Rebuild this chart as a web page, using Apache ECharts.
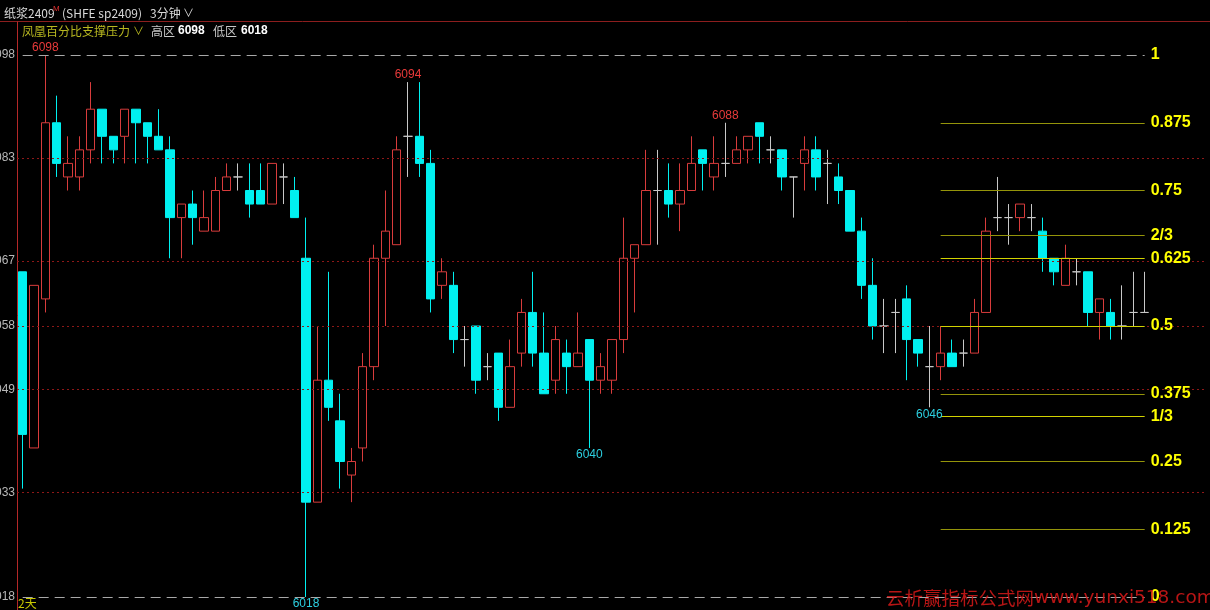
<!DOCTYPE html>
<html><head><meta charset="utf-8">
<script src="https://cdn.jsdelivr.net/npm/echarts@6/dist/echarts.min.js"></script>
<style>html,body{margin:0;padding:0;background:#000;overflow:hidden}#c{width:1210px;height:610px;}</style>
</head><body><div id="c"></div>
<script>
// ---- data ----
const opens  = [6066,6040,6062,6088,6080,6080,6084,6090,6086,6086, 6090,6088,6086,6084,6074,6076,6072,6072,6078,6080,
                6078,6078,6076,6080,6078,6068,6032,6050,6044,6036, 6040,6052,6068,6070,6086,6086,6082,6064,6064,6056,
                6058,6052,6054,6046,6054,6060,6054,6050,6054,6052, 6056,6050,6050,6056,6068,6070,6078,6078,6076,6078,
                6084,6080,6082,6082,6084,6088,6084,6084,6080,6082, 6084,6082,6080,6078,6072,6064,6058,6060,6062,6056,
                6052,6052,6054,6054,6054,6060,6074,6074,6074,6074, 6072,6068,6064,6066,6066,6060,6060,6058,6060,6060];
const closes = [6042,6064,6088,6082,6082,6084,6090,6086,6084,6090, 6088,6086,6084,6074,6076,6074,6074,6078,6080,6080,
                6076,6076,6082,6080,6074,6032,6050,6046,6038,6038, 6052,6068,6072,6084,6086,6082,6062,6066,6056,6056,
                6050,6052,6046,6052,6060,6054,6048,6056,6052,6054, 6050,6052,6056,6068,6070,6078,6078,6076,6078,6082,
                6082,6082,6082,6084,6086,6086,6084,6080,6080,6084, 6080,6082,6078,6072,6064,6058,6058,6060,6056,6054,
                6052,6054,6052,6054,6060,6072,6074,6074,6076,6074, 6068,6066,6068,6066,6060,6062,6058,6058,6060,6060];
const lows   = [6034,6040,6060,6080,6078,6078,6082,6082,6082,6082, 6082,6082,6084,6068,6068,6070,6072,6072,6078,6078,
                6074,6076,6076,6076,6074,6018,6032,6044,6034,6032, 6038,6050,6058,6070,6080,6080,6060,6062,6054,6052,
                6048,6050,6044,6046,6052,6052,6048,6048,6048,6052, 6040,6048,6048,6054,6060,6070,6070,6074,6072,6078,
                6078,6078,6080,6082,6082,6082,6082,6078,6074,6078, 6078,6076,6076,6072,6062,6056,6054,6054,6050,6052,
                6046,6050,6052,6052,6054,6060,6072,6070,6072,6072, 6066,6064,6064,6064,6058,6056,6056,6056,6058,6060];
const highs  = [6066,6064,6098,6092,6086,6086,6094,6090,6086,6090, 6090,6088,6090,6086,6076,6078,6078,6080,6082,6082,
                6082,6082,6082,6082,6080,6074,6058,6066,6048,6040, 6054,6070,6078,6086,6094,6094,6084,6068,6066,6058,
                6058,6054,6054,6056,6062,6066,6060,6058,6056,6060, 6056,6054,6056,6074,6070,6084,6084,6082,6082,6086,
                6084,6086,6088,6086,6086,6088,6086,6084,6080,6086, 6086,6084,6082,6078,6074,6068,6062,6062,6064,6056,
                6058,6058,6056,6056,6062,6074,6080,6076,6076,6076, 6074,6068,6070,6068,6066,6062,6062,6064,6066,6066];
const categories = opens.map((_, i) => String(i + 1));
const yTickValues = [6018, 6033.4, 6048.6, 6058, 6067.6, 6082.8, 6098];
const yTickLabels = ['6018', '6033', '6049', '6058', '6067', '6083', '6098'];
const rangeHigh = 6098;
const rangeLow = 6018;
const fibLevels = [1, 0.875, 0.75, 2/3, 0.625, 0.5, 0.375, 1/3, 0.25, 0.125, 0];
const fibLabels = ['1', '0.875', '0.75', '2/3', '0.625', '0.5', '0.375', '1/3', '0.25', '0.125', '0'];
const fibStartIndex = 81;
const highMarkIdx = [2, 34, 62];
const lowMarkIdx = [25, 50, 80];

// ---- build ----
const PAD = 5;
const axisCats = categories.concat(Array.from({length: PAD}, () => ''));
const lastIdx = categories.length - 1;
const brightSet = {'0.625': 1, '0.5': 1, '1/3': 1};
const labelStyle = {show: true, position: 'end', distance: 6, color: '#ffff00', fontSize: 16, fontWeight: 'bold', fontFamily: 'Liberation Sans, Arial, sans-serif'};

const mlData = [];
yTickValues.forEach(v => {
  if (v === rangeHigh || v === rangeLow) return;
  mlData.push({yAxis: v, lineStyle: {color: '#8e1818', type: [2, 3], width: 1}, label: {show: false}});
});
fibLevels.forEach((lv, k) => {
  const price = rangeLow + (rangeHigh - rangeLow) * lv;
  const edge = (lv === 1 || lv === 0);
  const start = edge ? 0 : fibStartIndex;
  const ls = edge ? {color: '#a8a8a8', type: [10, 6], width: 1}
                  : {color: brightSet[fibLabels[k]] ? '#d2d200' : '#94940a', type: 'solid', width: 1};
  mlData.push([
    {coord: [start, price], lineStyle: ls, label: Object.assign({}, labelStyle, {formatter: fibLabels[k]})},
    {coord: [lastIdx, price]}
  ]);
});

const mpData = highMarkIdx.map(i => ({coord: [i, highs[i]], value: highs[i],
    label: {position: 'top', distance: 1, color: '#e83a3a'}}))
  .concat(lowMarkIdx.map(i => ({coord: [i, lows[i]], value: lows[i],
    label: {position: 'bottom', distance: 1, color: '#2ccfe0'}})));

const chart = echarts.init(document.getElementById('c'), null, {renderer: 'canvas'});
const cjk = '"Noto Sans CJK SC", sans-serif';
chart.setOption({
  backgroundColor: '#000000',
  animation: false,
  grid: {left: 17, right: 3, top: 55, bottom: 13, containLabel: false, outerBoundsMode: 'none'},
  xAxis: {type: 'category', data: axisCats, boundaryGap: true, show: false},
  yAxis: {
    type: 'value', min: rangeLow, max: rangeHigh,
    splitLine: {show: false}, axisLine: {show: false}, axisTick: {show: false},
    axisLabel: {
      customValues: yTickValues, margin: 2, color: '#b8b8b8', fontSize: 12,
      fontFamily: 'Liberation Sans, Arial, sans-serif',
      formatter: v => { const k = yTickValues.findIndex(t => Math.abs(t - v) < 0.05); return k >= 0 ? yTickLabels[k] : ''; }
    }
  },
  series: [
    {
      type: 'line', data: [], z: 1, silent: true,
      markLine: {silent: true, symbol: ['none', 'none'], animation: false, data: mlData}
    },
    {
      type: 'candlestick', z: 3, barWidth: 9,
      data: opens.map((o, i) => [o, closes[i], lows[i], highs[i]]),
      itemStyle: {
        color: '#000000', color0: '#00f0f0',
        borderColor: '#d83c3c', borderColor0: '#00f0f0', borderColorDoji: '#c8c8c8', borderWidth: 1
      },
      markPoint: {
        symbol: 'circle', symbolSize: 0, silent: true, animation: false,
        label: {show: true, fontSize: 12, fontFamily: 'Liberation Sans, Arial, sans-serif', formatter: p => String(p.value)},
        data: mpData
      }
    }
  ],
  graphic: [
    {type: 'line', shape: {x1: 0, y1: 21.5, x2: 1210, y2: 21.5}, style: {stroke: '#8c1e1e', lineWidth: 1}, silent: true},
    {type: 'line', shape: {x1: 17.5, y1: 21.5, x2: 17.5, y2: 610}, style: {stroke: '#b42828', lineWidth: 1}, silent: true},
    {type: 'text', x: 4, y: 13, style: {text: '纸浆2409', fill: '#d8d8d8', font: '12px ' + cjk, verticalAlign: 'middle'}},
    {type: 'text', x: 53, y: 9, style: {text: 'M', fill: '#e03030', font: '8px Liberation Sans', verticalAlign: 'middle'}},
    {type: 'text', x: 62, y: 13, style: {text: '(SHFE sp2409)', fill: '#d8d8d8', font: '12px ' + cjk, verticalAlign: 'middle'}},
    {type: 'text', x: 150, y: 13, style: {text: '3分钟', fill: '#d8d8d8', font: '12px ' + cjk, verticalAlign: 'middle'}},
    {type: 'text', x: 183, y: 13, style: {text: '∨', fill: '#d8d8d8', font: '11px ' + cjk, verticalAlign: 'middle'}},
    {type: 'text', x: 22, y: 31, style: {text: '凤凰百分比支撑压力', fill: '#b8b820', font: '12px ' + cjk, verticalAlign: 'middle'}},
    {type: 'text', x: 133, y: 31, style: {text: '∨', fill: '#b8b820', font: '11px ' + cjk, verticalAlign: 'middle'}},
    {type: 'text', x: 151, y: 31, style: {text: '高区', fill: '#c8c8c8', font: '12px ' + cjk, verticalAlign: 'middle'}},
    {type: 'text', x: 178, y: 31, style: {text: String(rangeHigh), fill: '#ffffff', font: 'bold 12px Liberation Sans', verticalAlign: 'middle'}},
    {type: 'text', x: 213, y: 31, style: {text: '低区', fill: '#c8c8c8', font: '12px ' + cjk, verticalAlign: 'middle'}},
    {type: 'text', x: 241, y: 31, style: {text: String(rangeLow), fill: '#ffffff', font: 'bold 12px Liberation Sans', verticalAlign: 'middle'}},
    {type: 'text', x: 18, y: 603, style: {text: '2天', fill: '#c8c800', font: '12px ' + cjk, verticalAlign: 'middle'}},
    {type: 'text', x: 886, y: 598, z: 10, style: {
      text: '{a|云析赢指标公式网}{b|www.yunxi518.com}', verticalAlign: 'middle',
      rich: {
        a: {fill: 'rgba(215,25,25,0.85)', fontSize: 18.5, fontFamily: 'Noto Sans CJK SC'},
        b: {fill: 'rgba(215,25,25,0.85)', fontSize: 18.5, fontFamily: 'DejaVu Sans'}
      }
    }}
  ]
});
</script>
</body></html>
